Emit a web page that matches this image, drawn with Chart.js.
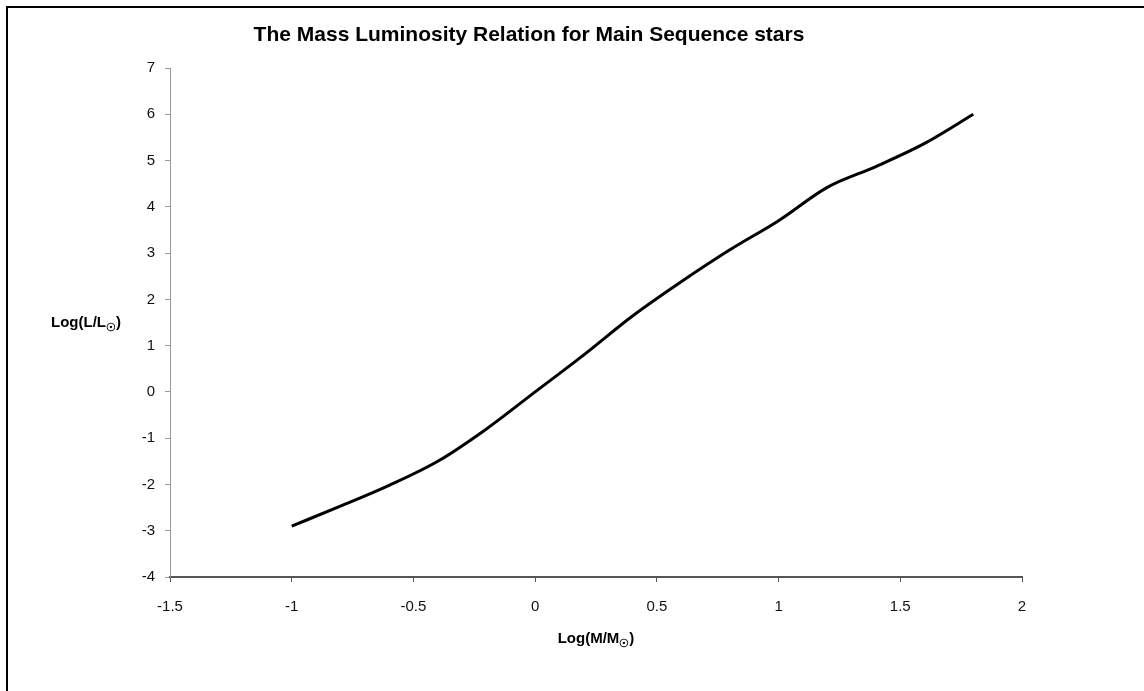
<!DOCTYPE html>
<html>
<head>
<meta charset="utf-8">
<script src="https://cdn.jsdelivr.net/npm/chart.js@4"></script>
<style>
  html, body { margin: 0; padding: 0; background: #fff; }
  #wrap { position: relative; width: 1144px; height: 691px; }
</style>
</head>
<body>
<div id="wrap"><canvas id="chart-mlr"></canvas></div>
<script>
// log(M/Msun) and log(L/Lsun)
const logMass = [-1, -0.8, -0.6, -0.4, -0.2, 0, 0.2, 0.4, 0.6, 0.8, 1.0, 1.2, 1.4, 1.6, 1.8];
const logLum = [-2.9, -2.47, -2.02, -1.5, -0.8, 0, 0.8, 1.64, 2.38, 3.07, 3.7, 4.42, 4.87, 5.37, 6.0];

const chartTitle = "The Mass Luminosity Relation for Main Sequence stars";
const xTitle = ["Log(M/M", "\u2609", ")"];
const yTitle = ["Log(L/L", "\u2609", ")"];

const points = logMass.map((m, i) => ({ x: m, y: logLum[i] }));

const FONT = "'Liberation Sans', Arial, sans-serif";

// draw a label with a small lowered sun symbol
function drawSubLabel(ctx, parts, cx, cy, size) {
  const big = "bold " + size + "px " + FONT;
  const small = "bold " + Math.round(size * 0.75) + "px " + FONT;
  ctx.font = big;
  const w0 = ctx.measureText(parts[0]).width;
  const w2 = ctx.measureText(parts[2]).width;
  ctx.font = small;
  const w1 = ctx.measureText(parts[1]).width;
  let x = cx - (w0 + w1 + w2) / 2;
  ctx.textBaseline = "middle";
  ctx.textAlign = "left";
  ctx.font = big;
  ctx.fillText(parts[0], x, cy);
  x += w0;
  ctx.font = small;
  ctx.fillText(parts[1], x, cy + size * 0.3);
  x += w1;
  ctx.font = big;
  ctx.fillText(parts[2], x, cy);
}

const textPlugin = {
  id: "textPlugin",
  afterDraw(chart) {
    const ctx = chart.ctx;
    const area = chart.chartArea;
    ctx.save();
    // frame lines on top and left
    ctx.fillStyle = "#000";
    ctx.fillRect(6, 6, chart.width, 2);
    ctx.fillRect(6, 6, 2, chart.height);
    // title
    ctx.fillStyle = "#000";
    ctx.font = "bold 21px " + FONT;
    ctx.textAlign = "center";
    ctx.textBaseline = "middle";
    ctx.fillText(chartTitle, 529, 35);
    // axis titles
    drawSubLabel(ctx, xTitle, (area.left + area.right) / 2, 639, 15);
    drawSubLabel(ctx, yTitle, 86, 323, 15);
    ctx.restore();
  },
};

new Chart(document.getElementById("chart-mlr"), {
  type: "line",
  data: {
    datasets: [
      {
        label: "Main sequence",
        data: points,
        borderColor: "#000",
        borderWidth: 3,
        pointRadius: 0,
        cubicInterpolationMode: "monotone",
        fill: false,
      },
    ],
  },
  options: {
    responsive: true,
    maintainAspectRatio: false,
    animation: false,
    layout: {
      padding: { left: 0, right: 122, top: 68, bottom: 0 },
    },
    plugins: {
      legend: { display: false },
      title: { display: false },
      tooltip: { enabled: false },
    },
    scales: {
      x: {
        type: "linear",
        min: -1.5,
        max: 2,
        ticks: {
          stepSize: 0.5,
          color: "#111",
          font: { family: FONT, size: 15 },
          padding: 16,
          maxRotation: 0,
          callback: (v) => String(v),
        },
        grid: {
          drawOnChartArea: false,
          drawTicks: true,
          tickLength: 5,
          color: "#555",
        },
        border: { color: "#555", width: 2 },
        afterFit(scale) {
          scale.height = 691 - 577;
        },
      },
      y: {
        min: -4,
        max: 7,
        ticks: {
          stepSize: 1,
          color: "#111",
          font: { family: FONT, size: 15 },
          padding: 10,
          callback: (v) => String(v),
        },
        grid: {
          drawOnChartArea: false,
          drawTicks: true,
          tickLength: 5,
          color: "#999",
        },
        border: { color: "#999", width: 1 },
        afterFit(scale) {
          scale.width = 170;
        },
      },
    },
  },
  plugins: [textPlugin],
});
</script>
</body>
</html>
